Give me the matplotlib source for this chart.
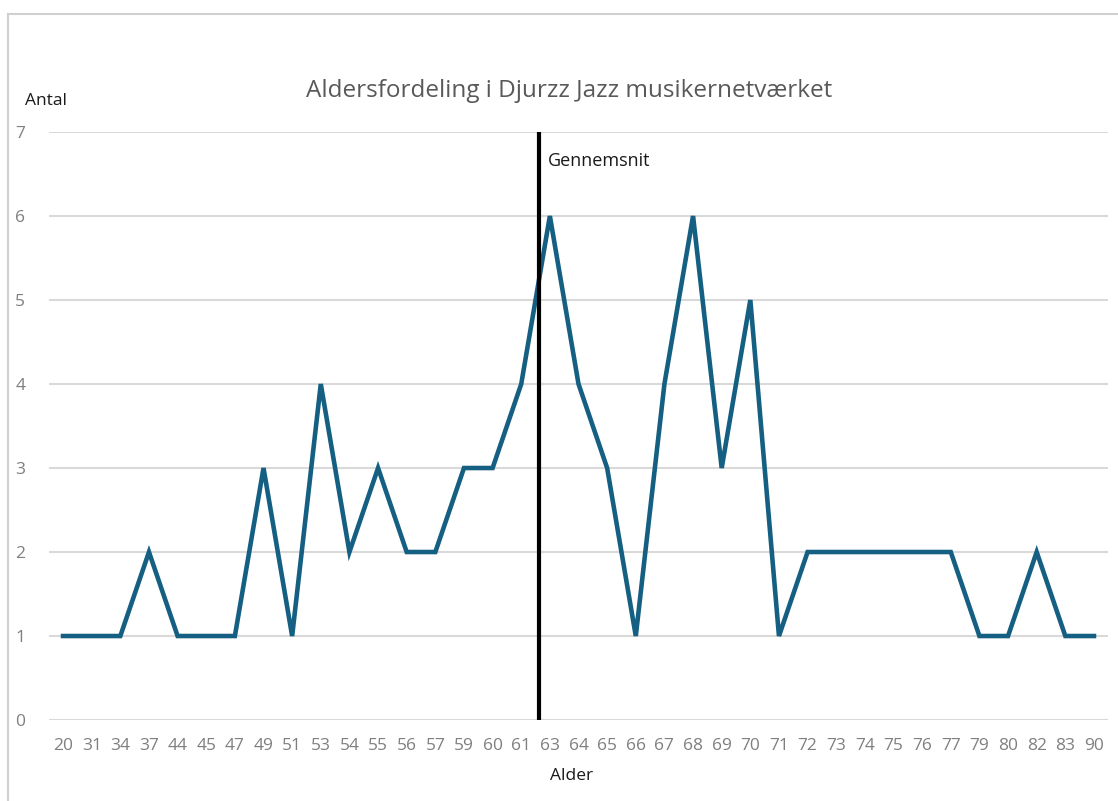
import matplotlib.pyplot as plt
from matplotlib.lines import Line2D

alder = ['20', '31', '34', '37', '44', '45', '47', '49', '51', '53', '54', '55', '56',
         '57', '59', '60', '61', '63', '64', '65', '66', '67', '68', '69', '70', '71',
         '72', '73', '74', '75', '76', '77', '79', '80', '82', '83', '90']
antal = [1, 1, 1, 2, 1, 1, 1, 3, 1, 4, 2, 3, 2,
         2, 3, 3, 4, 6, 4, 3, 1, 4, 6, 3, 5, 1,
         2, 2, 2, 2, 2, 2, 1, 1, 2, 1, 1]
gennemsnit_pos = 16.62  # line drawn between 61 and 63

plt.rcParams['font.family'] = ['Open Sans', 'DejaVu Sans']

fig = plt.figure(figsize=(11.18, 8.01), dpi=100)
ax = fig.add_axes([0.0436, 0.1011, 0.9477, 0.7341])

x = list(range(len(alder)))
ax.plot(x, antal, color='#156082', lw=3.3, solid_joinstyle='miter', zorder=3)
ax.axvline(gennemsnit_pos, color='black', lw=3, zorder=4)
ax.text(gennemsnit_pos + 0.3, 6.65, 'Gennemsnit', fontsize=13, color='#1a1a1a', va='center')

ax.set_xlim(-0.5, len(alder) - 0.5)
ax.set_ylim(0, 7)
ax.set_xticks(x)
ax.set_xticklabels(alder)
ax.set_yticks(range(8))
ax.grid(axis='y', color='#d9d9d9', lw=1.5)
ax.set_axisbelow(True)
for s in ax.spines.values():
    s.set_visible(False)
ax.tick_params(length=0, labelsize=12.5, labelcolor='#7f7f7f')
ax.tick_params(axis='x', pad=13)
ax.tick_params(axis='y', pad=17)

fig.text(0.509, 0.887, 'Aldersfordeling i Djurzz Jazz musikernetværket',
         ha='center', va='center', fontsize=17.5, color='#595959')
fig.text(0.022, 0.874, 'Antal', fontsize=12.5, color='#1a1a1a', va='center')
fig.text(0.511, 0.031, 'Alder', fontsize=12.5, color='#1a1a1a', ha='center', va='center')

# chart frame
fig.add_artist(Line2D([0.0072, 0.0072], [0, 0.9825], color='#d0d0d0', lw=1.5))
fig.add_artist(Line2D([0.0072, 1], [0.9825, 0.9825], color='#d0d0d0', lw=1.5))

fig.savefig('out.png', dpi=100)
